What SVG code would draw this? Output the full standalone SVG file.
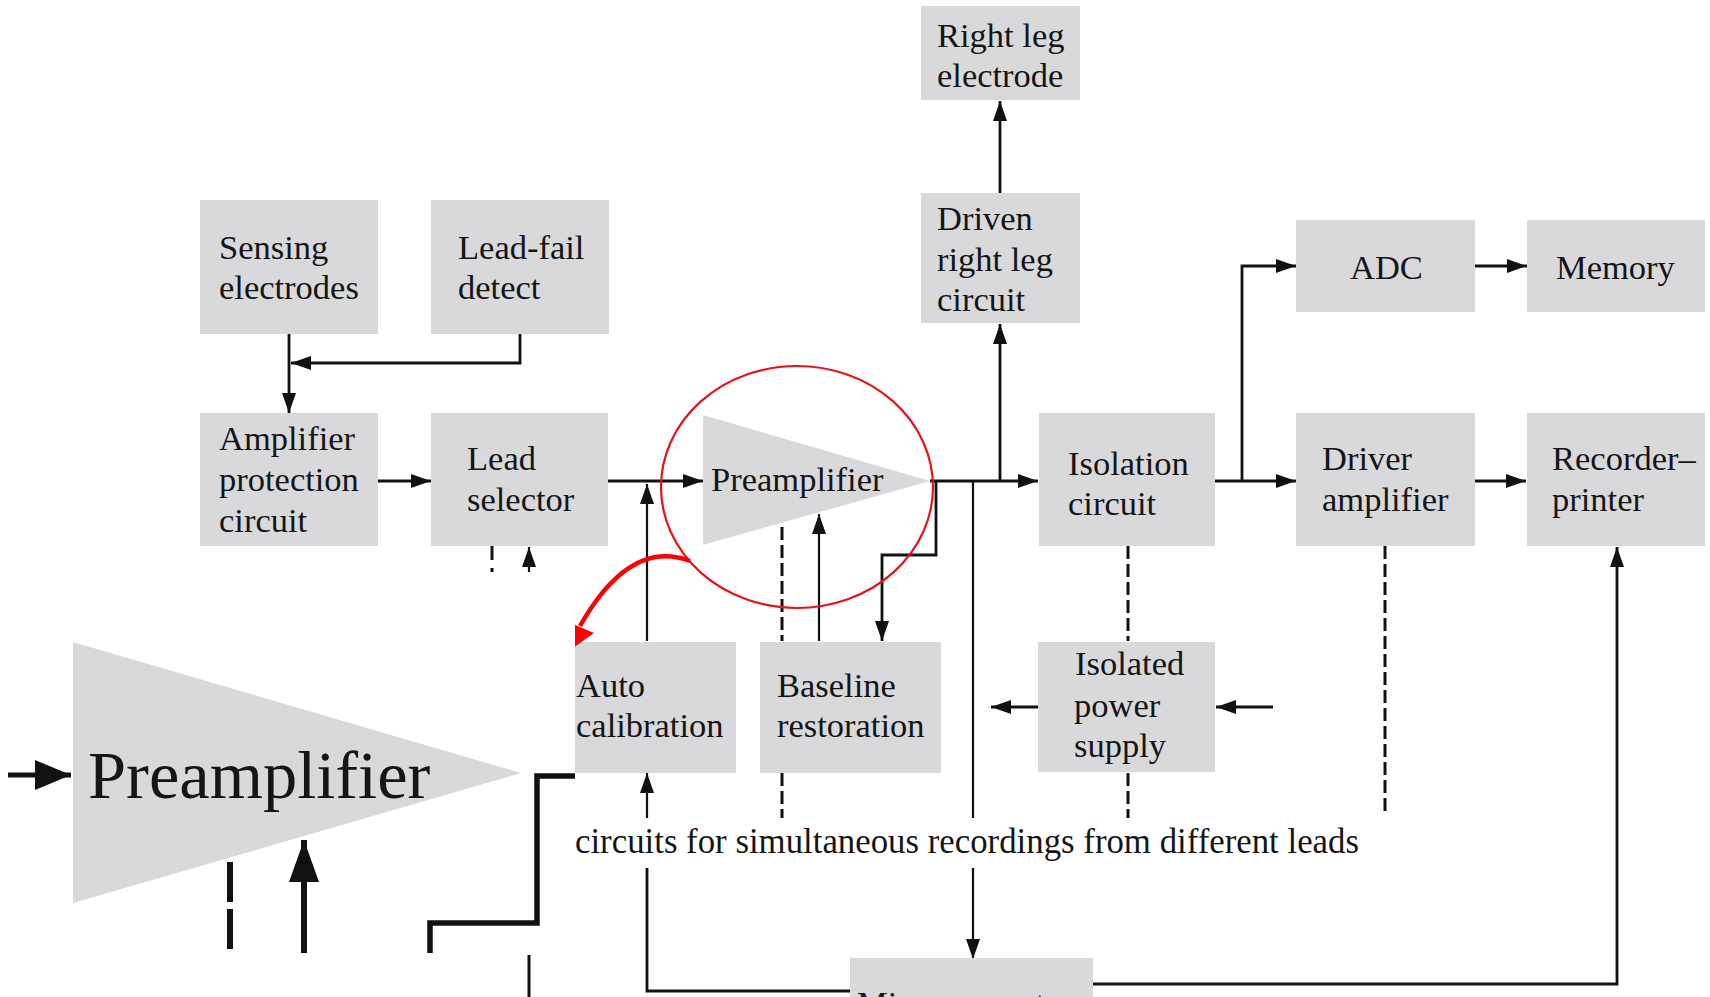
<svg xmlns="http://www.w3.org/2000/svg" width="1710" height="997" viewBox="0 0 1710 997">
<style>
.box{fill:#d9d9db}
.t{font-family:"Liberation Serif","Times New Roman",serif;font-size:34.5px;fill:#151515}
.ln{fill:none;stroke:#111;stroke-width:2.8}
.thin{fill:none;stroke:#111;stroke-width:2.2}
.dash{fill:none;stroke:#111;stroke-width:3;stroke-dasharray:13 5}
.arr{marker-end:url(#ah)}
</style>
<defs>
<marker id="ah" viewBox="0 0 20 14" refX="20" refY="7" markerWidth="20" markerHeight="14" markerUnits="userSpaceOnUse" orient="auto"><path d="M0,0 L20,7 L0,14 z" fill="#111"/></marker>
<marker id="ahIn1" viewBox="0 0 36 30" refX="36" refY="15" markerWidth="36" markerHeight="30" markerUnits="userSpaceOnUse" orient="auto"><path d="M0,0 L36,15 L0,30 z" fill="#111"/></marker>
<marker id="ahIn2" viewBox="0 0 42 30" refX="42" refY="15" markerWidth="42" markerHeight="30" markerUnits="userSpaceOnUse" orient="auto"><path d="M0,0 L42,15 L0,30 z" fill="#111"/></marker>
</defs>
<rect width="1710" height="997" fill="#fff"/>

<g id="connectors">
<path class="ln arr" d="M289,334 V413"/>
<path class="ln arr" d="M520,334 V363 H291"/>
<path class="ln arr" d="M378,481 H431"/>
<path class="ln arr" d="M608,481 H703"/>
<path class="thin arr" d="M647,641 V484"/>
<path class="dash" d="M492,546 V572" style="stroke-dasharray:14 8"/>
<path class="thin arr" d="M529,572 V547"/>
<path class="dash" d="M782,527 V641"/>
<path class="thin arr" d="M819,641 V514"/>
<path class="ln arr" d="M930,481 H1038"/>
<path class="ln arr" d="M936,481 V555 H882 V641"/>
<path class="thin" d="M973,481 V818"/>
<path class="thin arr" d="M973,868 V959"/>
<path class="ln arr" d="M1000,481 V324"/>
<path class="ln arr" d="M1000,193 V101"/>
<path class="ln arr" d="M1215,481 H1296"/>
<path class="ln arr" d="M1242,481 V266 H1296"/>
<path class="ln arr" d="M1475,266 H1527"/>
<path class="ln arr" d="M1475,481 H1526"/>
<path class="dash" d="M1128,546 V641"/>
<path class="dash" d="M1128,773 V818"/>
<path class="dash" d="M1385,546 V811"/>
<path class="ln arr" d="M1038,707 H991"/>
<path class="ln arr" d="M1273,707 H1216"/>
<path class="dash" d="M782,773 V818"/>
<path class="thin arr" d="M647,818 V773"/>
<path class="ln" d="M647,868 V991 H850"/>
<path class="ln arr" d="M1093,984 H1617 V547"/>
</g>

<g id="sensing-electrodes"><rect class="box" x="200" y="200" width="178" height="134"/><text class="t" x="219" y="259">Sensing</text><text class="t" x="219" y="299">electrodes</text></g>
<g id="lead-fail-detect"><rect class="box" x="431" y="200" width="178" height="134"/><text class="t" x="458" y="259">Lead-fail</text><text class="t" x="458" y="299">detect</text></g>
<g id="right-leg-electrode"><rect class="box" x="921" y="6" width="159" height="94"/><text class="t" x="937" y="47">Right leg</text><text class="t" x="937" y="87">electrode</text></g>
<g id="driven-right-leg"><rect class="box" x="921" y="193" width="159" height="130"/><text class="t" x="937" y="230">Driven</text><text class="t" x="937" y="271">right leg</text><text class="t" x="937" y="311">circuit</text></g>
<g id="adc"><rect class="box" x="1296" y="220" width="179" height="92"/><text class="t" x="1350" y="279">ADC</text></g>
<g id="memory"><rect class="box" x="1527" y="220" width="178" height="92"/><text class="t" x="1556" y="279">Memory</text></g>
<g id="amplifier-protection"><rect class="box" x="200" y="413" width="178" height="133"/><text class="t" x="219" y="450">Amplifier</text><text class="t" x="219" y="491">protection</text><text class="t" x="219" y="532">circuit</text></g>
<g id="lead-selector"><rect class="box" x="431" y="413" width="177" height="133"/><text class="t" x="467" y="470">Lead</text><text class="t" x="467" y="511">selector</text></g>
<g id="preamplifier"><polygon points="703,415 703,545 930,481" fill="#d9d9db"/><text class="t" x="711" y="491">Preamplifier</text></g>
<g id="isolation-circuit"><rect class="box" x="1039" y="413" width="176" height="133"/><text class="t" x="1068" y="475">Isolation</text><text class="t" x="1068" y="515">circuit</text></g>
<g id="driver-amplifier"><rect class="box" x="1296" y="413" width="179" height="133"/><text class="t" x="1322" y="470">Driver</text><text class="t" x="1322" y="511">amplifier</text></g>
<g id="recorder-printer"><rect class="box" x="1527" y="413" width="178" height="133"/><text class="t" x="1552" y="470">Recorder–</text><text class="t" x="1552" y="511">printer</text></g>
<g id="auto-calibration"><rect class="box" x="575" y="642" width="161" height="131"/><text class="t" x="576" y="697">Auto</text><text class="t" x="576" y="737">calibration</text></g>
<g id="baseline-restoration"><rect class="box" x="760" y="642" width="181" height="131"/><text class="t" x="777" y="697">Baseline</text><text class="t" x="777" y="737">restoration</text></g>
<g id="isolated-power-supply"><rect class="box" x="1038" y="642" width="177" height="130"/><text class="t" x="1075" y="675">Isolated</text><text class="t" x="1074" y="717">power</text><text class="t" x="1074" y="757">supply</text></g>
<g id="microcomputer"><rect class="box" x="850" y="958" width="243" height="60"/><text class="t" x="857" y="1015">Microcomputer</text></g>
<g id="caption"><text class="t" x="575" y="853" style="font-size:34.8px">circuits for simultaneous recordings from different leads</text></g>

<g id="highlight">
<ellipse cx="797" cy="487" rx="136" ry="121" fill="none" stroke="#e8121a" stroke-width="2.2"/>
<path d="M690,561 Q630,538 580,626" fill="none" stroke="#f00" stroke-width="4.5"/>
<polygon points="566,653 559,618 594,633" fill="#f00"/>
</g>

<g id="inset">
<rect x="0" y="572" width="575" height="425" fill="#fff"/>
<polygon points="73,642 73,903 521,773" fill="#d9d9db"/>
<text x="88" y="798" style="font-family:'Liberation Serif','Times New Roman',serif;font-size:68.5px;fill:#151515">Preamplifier</text>
<path d="M8,775 H71" fill="none" stroke="#111" stroke-width="5" marker-end="url(#ahIn1)"/>
<path d="M230,862 V953" fill="none" stroke="#111" stroke-width="6" stroke-dasharray="40 7"/>
<path d="M304,953 V840" fill="none" stroke="#111" stroke-width="6" marker-end="url(#ahIn2)"/>
<path d="M575,776 H537 V923 H430 V953" fill="none" stroke="#111" stroke-width="5.5"/>
<path d="M529,955 V997" fill="none" stroke="#111" stroke-width="3"/>
</g>
</svg>
